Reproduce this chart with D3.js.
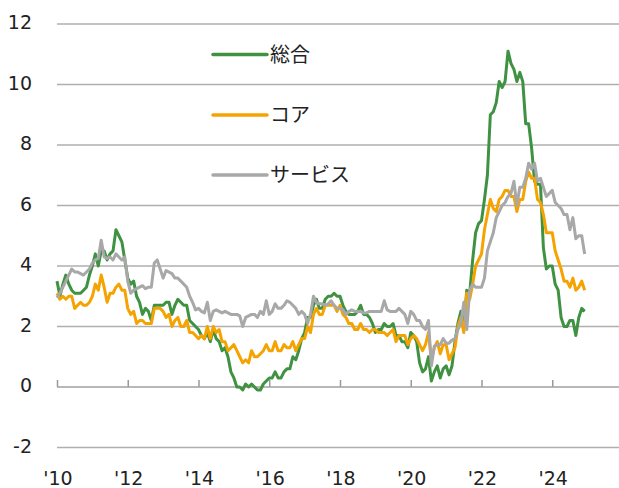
<!DOCTYPE html>
<html>
  <head>
    <meta charset="utf-8">
    <script src="https://d3js.org/d3.v7.min.js"></script>
    <style>
      body { margin: 0; background: #fff; }
      .tick-label { font-family: "DejaVu Sans", Verdana, sans-serif; font-size: 19px; fill: #222; }
      .legend-label { font-family: "Noto Sans CJK JP", sans-serif; font-size: 20px; fill: #222; }
    </style>
  </head>
  <body>
    <div id="chart"></div>
    <script>
      // UK CPI, y/y %, monthly from Jan 2010 to Dec 2024
      const startYear = 2010
      const seriesNames = ['総合', 'コア', 'サービス']
      const seriesColors = ['#3f9242', '#f5a300', '#a8a8a8']

      const headline = [
        3.5, 3.0, 3.4, 3.7, 3.4, 3.2, 3.1, 3.1, 3.1, 3.2, 3.3, 3.7,
        4.0, 4.4, 4.0, 4.5, 4.5, 4.2, 4.4, 4.5, 5.2, 5.0, 4.8, 4.2,
        3.6, 3.4, 3.5, 3.0, 2.8, 2.4, 2.6, 2.5, 2.2, 2.7, 2.7, 2.7,
        2.7, 2.8, 2.8, 2.4, 2.7, 2.9, 2.8, 2.7, 2.7, 2.2, 2.1, 2.0,
        1.9, 1.7, 1.6, 1.8, 1.5, 1.9, 1.6, 1.5, 1.2, 1.3, 1.0, 0.5,
        0.3, 0.0, 0.0, -0.1, 0.1, 0.0, 0.1, 0.0, -0.1, -0.1, 0.1, 0.2,
        0.3, 0.3, 0.5, 0.3, 0.3, 0.5, 0.6, 0.6, 1.0, 0.9, 1.2, 1.6,
        1.8, 2.3, 2.3, 2.7, 2.9, 2.6, 2.6, 2.9, 3.0, 3.0, 3.1, 3.0,
        3.0, 2.7, 2.5, 2.4, 2.4, 2.4, 2.5, 2.7, 2.4, 2.4, 2.3, 2.1,
        1.8, 1.9, 1.9, 2.1, 2.0, 2.0, 2.1, 1.7, 1.7, 1.5, 1.5, 1.3,
        1.8, 1.7, 1.5, 0.8, 0.5, 0.6, 1.0, 0.2, 0.5, 0.7, 0.3, 0.6,
        0.7, 0.4, 0.7, 1.5, 2.1, 2.5, 2.0, 3.2, 3.1, 4.2, 5.1, 5.4,
        5.5, 6.2, 7.0, 9.0, 9.1, 9.4, 10.1, 9.9, 10.1, 11.1, 10.7, 10.5,
        10.1, 10.4, 10.1, 8.7, 8.7, 7.9, 6.8, 6.7, 6.7, 4.6, 3.9, 4.0,
        4.0, 3.4, 3.2, 2.3, 2.0, 2.0, 2.2, 2.2, 1.7, 2.3, 2.6, 2.5
      ]

      const core = [
        3.1, 2.9, 3.0, 2.9, 3.0, 3.0, 2.6, 2.7, 2.8, 2.7, 2.7, 2.8,
        3.0, 3.4, 3.2, 3.7, 3.3, 2.8, 3.1, 3.1, 3.3, 3.4, 3.2, 3.2,
        2.6, 2.4, 2.5, 2.1, 2.2, 2.2, 2.1, 2.1, 2.1, 2.6, 2.6, 2.6,
        2.5, 2.3, 2.4, 2.0, 2.2, 2.3, 2.0, 2.0, 2.2, 1.8, 1.8, 1.7,
        1.6, 1.7, 1.6, 2.0, 1.6, 2.0, 1.8, 1.9, 1.5, 1.5, 1.2, 1.3,
        1.4, 1.2, 1.0, 0.8, 0.9, 0.8, 1.2, 1.0, 1.0, 1.1, 1.2, 1.4,
        1.2, 1.2, 1.5, 1.2, 1.2, 1.4, 1.3, 1.3, 1.5, 1.2, 1.4, 1.6,
        1.6, 2.0, 1.8, 2.4, 2.6, 2.4, 2.4, 2.7, 2.7, 2.7, 2.7, 2.5,
        2.7, 2.4, 2.3, 2.1, 2.1, 1.9, 1.9, 2.1, 1.9, 1.9, 1.8, 1.9,
        1.9, 1.8, 1.8, 1.8, 1.7, 1.8, 1.9, 1.5, 1.7, 1.7, 1.7, 1.4,
        1.6, 1.7, 1.6, 1.4, 1.2, 1.4, 1.8, 0.9, 1.3, 1.5, 1.1, 1.4,
        1.4, 0.9, 1.1, 1.3, 2.0, 2.3, 1.8, 3.1, 2.9, 3.4, 4.0, 4.2,
        4.4, 5.2, 5.7, 6.2, 5.9, 5.8, 6.2, 6.3, 6.5, 6.5, 6.3, 6.3,
        5.8, 6.2, 6.2, 6.8, 7.1, 6.9, 6.9, 6.2, 6.1, 5.7, 5.1, 5.1,
        5.1, 4.5, 4.2, 3.9, 3.5, 3.5, 3.3, 3.6, 3.2, 3.3, 3.5, 3.2
      ]

      const services = [
        2.95, 3.1, 3.3, 3.5, 3.7, 3.9, 3.8, 3.8, 3.75, 3.7, 3.8, 3.9,
        4.1, 4.2, 4.25, 4.85, 4.3, 4.25, 4.3, 4.2, 4.4, 4.3, 4.2, 4.3,
        3.5, 3.1, 3.2, 3.25, 3.3, 3.35, 3.25, 3.3, 3.3, 4.1, 4.2, 3.9,
        3.6, 3.85, 3.8, 3.75, 3.6, 3.6, 3.5, 3.4, 3.3, 3.0, 2.8, 2.55,
        2.6, 2.5, 2.45, 2.8, 2.2, 2.5, 2.55, 2.5, 2.45, 2.5, 2.45, 2.4,
        2.4, 2.4, 2.35, 2.0, 2.3, 2.35, 2.4, 2.4, 2.3, 2.5, 2.4, 2.85,
        2.4, 2.5, 2.75, 2.6, 2.6, 2.7, 2.85, 2.8, 2.7, 2.6, 2.4, 2.5,
        2.4, 2.1, 2.4, 3.0, 2.8, 2.75, 2.75, 2.7, 2.75, 2.85, 2.7, 2.6,
        2.6, 2.55, 2.4, 2.5, 2.55, 2.5, 2.5, 2.5, 2.45, 2.45, 2.5, 2.5,
        2.5, 2.5, 2.5, 2.85, 2.55, 2.5, 2.5, 2.5, 2.6, 2.5, 2.4, 2.1,
        2.5, 2.4, 2.2, 2.2, 2.0, 1.9, 2.2, 0.7, 1.35, 1.4, 1.4, 1.6,
        1.45, 1.45, 1.55, 1.6, 1.9, 2.1, 2.8, 1.9, 3.2, 3.4, 3.3, 3.3,
        3.3, 3.6, 4.5, 4.8, 5.1, 5.6, 5.8, 6.0, 6.1, 6.3, 6.4, 6.8,
        6.0, 6.6, 6.6, 6.9, 7.4, 7.2, 7.4, 6.8, 6.9, 6.6, 6.3, 6.4,
        6.5, 6.1, 6.0, 5.9, 5.7, 5.7, 5.2, 5.6, 4.9, 5.0, 5.0, 4.4
      ]

      const yTicks = [-2, 0, 2, 4, 6, 8, 10, 12]
      const xTicks = [2010, 2012, 2014, 2016, 2018, 2020, 2022, 2024]

      const width = 619
      const height = 488

      let svg = d3.select('#chart').append('svg')
        .attr('width', width)
        .attr('height', height)

      let x = d3.scaleLinear().domain([2010, 2026]).range([57, 623])
      let y = d3.scaleLinear().domain([-2, 12]).range([447.5, 24])

      // horizontal grid
      svg.append('g')
        .selectAll('line')
        .data(yTicks.filter(d => d !== 0))
        .join('line')
          .attr('x1', x(2010))
          .attr('x2', width)
          .attr('y1', d => y(d))
          .attr('y2', d => y(d))
          .attr('stroke', '#b1aeae')
          .attr('stroke-width', 1.5)

      // y labels
      svg.append('g')
        .selectAll('text')
        .data(yTicks)
        .join('text')
          .attr('class', 'tick-label')
          .attr('x', 32)
          .attr('y', d => y(d) + 5)
          .attr('text-anchor', 'end')
          .text(d => d)

      // zero axis with ticks pointing up
      let xAxis = d3.axisTop(x)
        .tickValues(xTicks)
        .tickSize(7)
        .tickSizeOuter(0)
        .tickFormat('')
      let axisG = svg.append('g')
        .attr('transform', `translate(0,${y(0)})`)
        .call(xAxis)
      axisG.select('.domain').remove()
      axisG.selectAll('.tick line').attr('stroke', '#999').attr('stroke-width', 1.5)
      axisG.append('line')
        .attr('x1', x(2010)).attr('x2', width)
        .attr('stroke', '#a0a0a0').attr('stroke-width', 1.5)

      // x labels
      svg.append('g')
        .selectAll('text')
        .data(xTicks)
        .join('text')
          .attr('class', 'tick-label')
          .attr('x', d => x(d) + 1)
          .attr('y', 485)
          .attr('text-anchor', 'middle')
          .text(d => "'" + String(d).slice(2))

      // series
      const allSeries = [headline, core, services]
      let line = d3.line()
        .x((d, i) => x(startYear + i / 12))
        .y(d => y(d))

      svg.append('g')
        .selectAll('path')
        .data(allSeries)
        .join('path')
          .attr('d', d => line(d))
          .attr('fill', 'none')
          .attr('stroke', (d, i) => seriesColors[i])
          .attr('stroke-width', 3)
          .attr('stroke-linejoin', 'round')

      // legend
      const legendY = [54.5, 115, 175]
      let legend = svg.append('g')
        .selectAll('g')
        .data(seriesNames)
        .join('g')
          .attr('transform', (d, i) => `translate(213,${legendY[i]})`)
      legend.append('line')
        .attr('x1', 0).attr('x2', 54)
        .attr('stroke', (d, i) => seriesColors[i])
        .attr('stroke-width', 3.5)
        .attr('stroke-linecap', 'round')
      legend.append('text')
        .attr('class', 'legend-label')
        .attr('x', 57)
        .attr('y', 7)
        .text(d => d)
    </script>
  </body>
</html>
